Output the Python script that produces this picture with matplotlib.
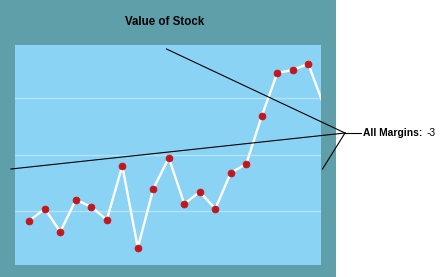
import matplotlib
matplotlib.use("Agg")
import matplotlib.pyplot as plt
from matplotlib.patches import Rectangle
from matplotlib.lines import Line2D

title = "Value of Stock"
label_bold = "All Margins:"
label_value = "-3"
periods = list(range(20))
values = [8.27, 10.39, 6.32, 11.98, 10.74, 8.44, 18.0, 3.49, 13.93, 19.42,
          11.27, 13.40, 10.39, 16.76, 18.35, 26.85, 34.46, 34.99, 36.05, 28.67]
grid_values = [10, 20, 30]

W, H = 440, 277
fig = plt.figure(figsize=(W / 100, H / 100), dpi=100)
fig.patch.set_facecolor("white")

def fx(px):
    return px / W

def fy(py):
    return 1 - py / H

fig.add_artist(Rectangle((0, 0), fx(336), 1, transform=fig.transFigure,
                         facecolor="#5E9FAA", edgecolor="none", zorder=0))

xmin, xmax = -0.923, 18.82
ax = fig.add_axes([fx(15), fy(265), fx(306), (265 - 45) / H])
ax.set_facecolor("#8AD3F5")
for g in grid_values:
    ax.axhline(g, color="#B4E3F5", lw=1.0, zorder=1)
visible = [i for i, p in enumerate(periods) if xmin <= p <= xmax]
ax.plot(periods, values, color="white", lw=1.7, zorder=2,
        marker="o", markersize=5, markerfacecolor="#C4161C",
        markeredgecolor="#C4161C", markeredgewidth=0.5, markevery=visible)
ax.set_xlim(xmin, xmax)
ax.set_ylim(0.44, 39.4)
ax.set_xticks([])
ax.set_yticks([])
for s in ax.spines.values():
    s.set_visible(False)

fig.text(fx(165), fy(22), title, ha="center", va="center",
         fontsize=8.3, fontweight="bold", family="Liberation Sans", color="black")

hub = (345, 133)
for end in [(166.5, 49), (11, 169), (322.5, 169), (361, 133)]:
    fig.add_artist(Line2D([fx(hub[0]), fx(end[0])], [fy(hub[1]), fy(end[1])],
                          transform=fig.transFigure, color="black", lw=0.8, zorder=5))

fig.text(fx(363), fy(133), label_bold, ha="left", va="center",
         fontsize=7.4, fontweight="bold", family="Liberation Sans", color="black")
fig.text(fx(426.5), fy(133), label_value, ha="left", va="center",
         fontsize=7.4, family="Liberation Sans", color="black")

fig.savefig("out.png", dpi=100, facecolor=fig.get_facecolor())
